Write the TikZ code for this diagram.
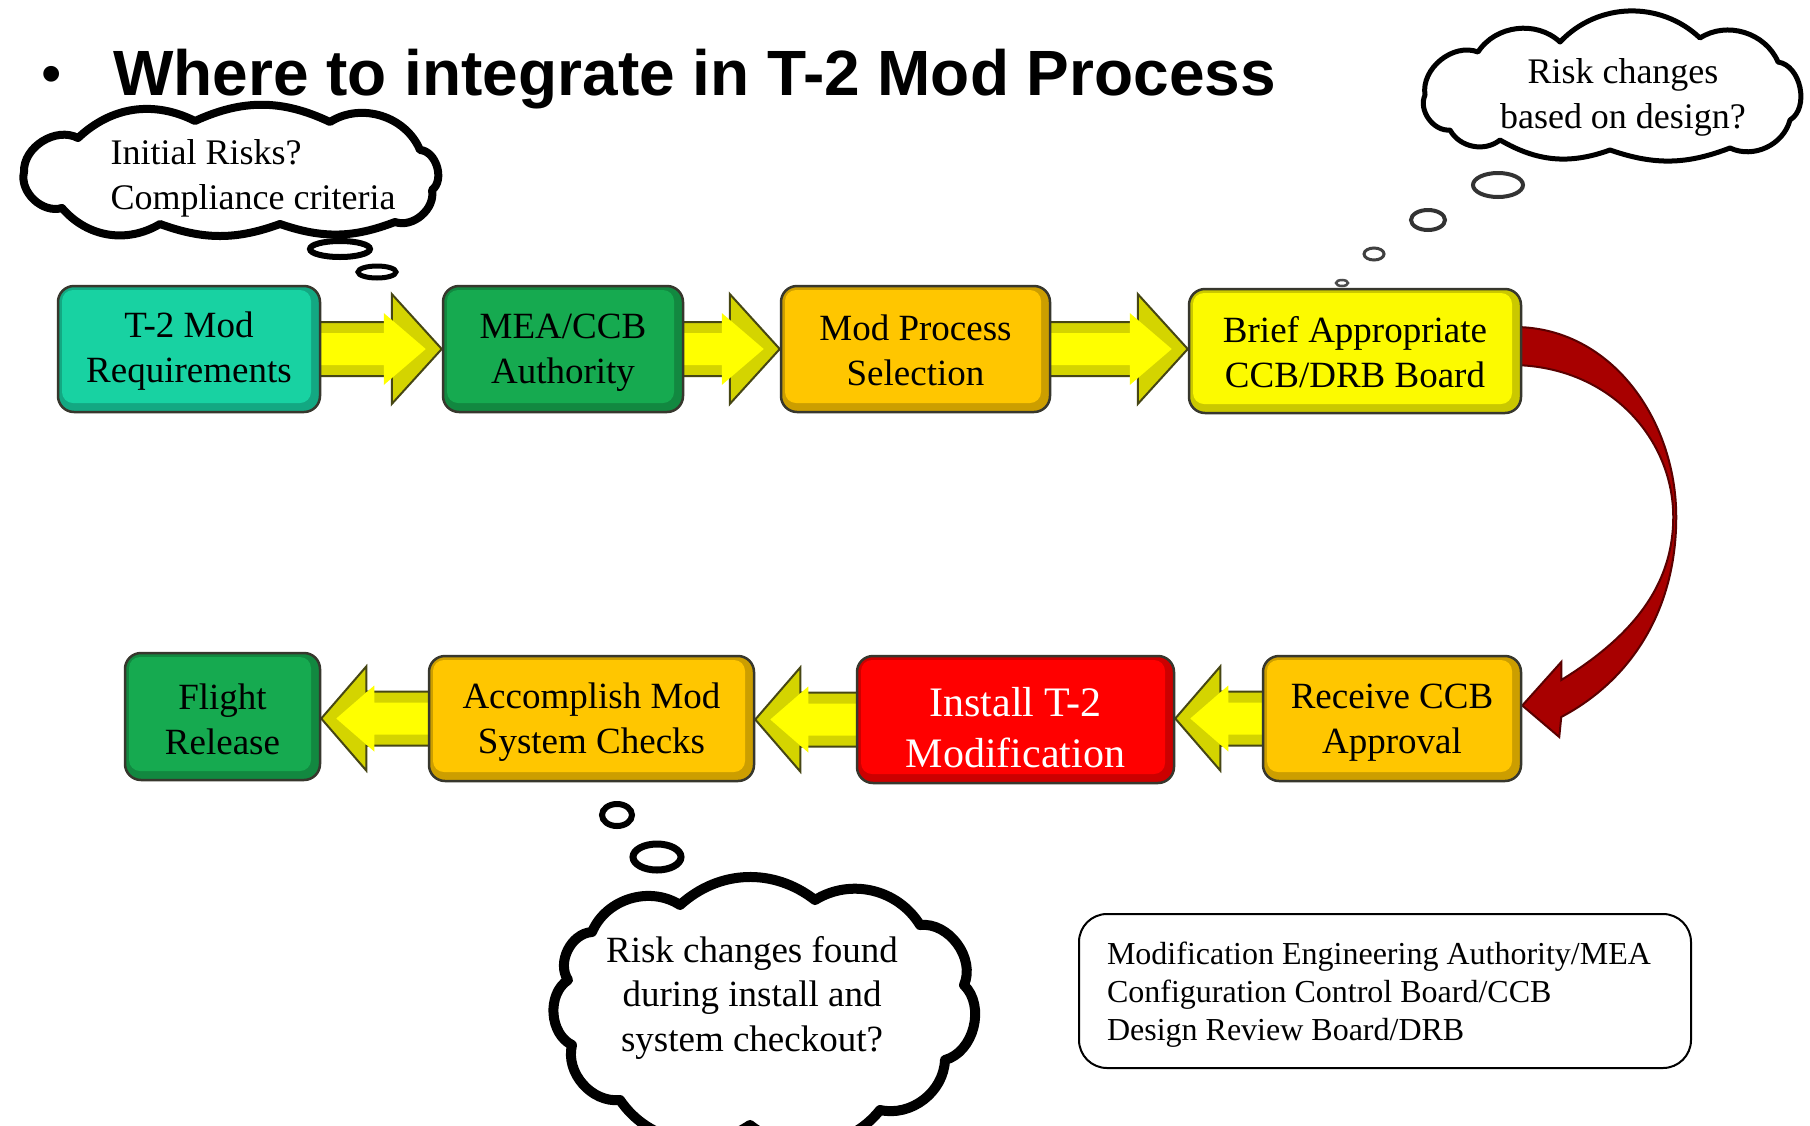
\documentclass[tikz,border=0pt]{standalone}
\usepackage{fontspec}
\setmainfont{Liberation Serif}
\newfontfamily\titlefont{Liberation Sans}
\usetikzlibrary{calc}
\pgfdeclarelayer{bg}
\pgfsetlayers{bg,main}
\definecolor{cteal}{RGB}{24,210,162}
\definecolor{cgreen}{RGB}{22,170,80}
\definecolor{cgold}{RGB}{255,198,0}
\definecolor{cyel}{RGB}{252,250,0}
\definecolor{cred}{RGB}{255,0,0}
\definecolor{arrowyel}{RGB}{255,255,0}
\definecolor{arrowedge}{RGB}{212,212,0}
\definecolor{arrowline}{RGB}{70,70,20}
\definecolor{darkred}{RGB}{168,0,0}
\definecolor{darkredline}{RGB}{90,0,0}
\definecolor{boxline}{RGB}{55,55,45}
\newcommand\tup[1]{\rule{0pt}{#1}}
\tikzset{
  pbox/.style={rounded corners=16pt, draw=boxline, line width=2.5pt, fill=#1!80!black,
    align=center, inner sep=0pt, font=\fontsize{37}{45}\selectfont,
    path picture={\fill[#1, rounded corners=11pt]
      ([shift={(4pt,-4pt)}]path picture bounding box.north west) rectangle
      ([shift={(-9pt,9pt)}]path picture bounding box.south east);}},
  barrow/.style={fill=arrowedge, draw=arrowline, line width=2pt, line join=miter},
  cloudline/.style={draw=black, fill=white, line join=round},
  bubble/.style={draw=black, fill=white},
  cloudtext/.style={inner sep=0pt, font=\fontsize{36}{45}\selectfont},
}
% right-pointing block arrow from #1 to #2
\newcommand\rarrow[2]{%
  \coordinate (s) at (#1.east);
  \coordinate (t) at (#2.west |- #1.east);
  \begin{pgfonlayer}{bg}
  \filldraw[barrow] ($(s)+(-10,-27)$) -- ($(t)+(-50,-27)$) -- ($(t)+(-50,-55)$) -- (t)
     -- ($(t)+(-50,55)$) -- ($(t)+(-50,27)$) -- ($(s)+(-10,27)$) -- cycle;
  \fill[arrowyel] ($(s)+(-10,-16)$) -- ($(t)+(-58,-16)$) -- ($(t)+(-58,-36)$) -- ($(t)+(-16,0)$)
     -- ($(t)+(-58,36)$) -- ($(t)+(-58,16)$) -- ($(s)+(-10,16)$) -- cycle;
  \end{pgfonlayer}
}
% left-pointing block arrow from #1 to #2
\newcommand\larrow[2]{%
  \coordinate (s) at (#1.west);
  \coordinate (t) at (#2.east |- #1.west);
  \begin{pgfonlayer}{bg}
  \filldraw[barrow] ($(s)+(10,-27)$) -- ($(t)+(45,-27)$) -- ($(t)+(45,-52)$) -- (t)
     -- ($(t)+(45,52)$) -- ($(t)+(45,27)$) -- ($(s)+(10,27)$) -- cycle;
  \fill[arrowyel] ($(s)+(10,-16)$) -- ($(t)+(53,-16)$) -- ($(t)+(53,-33)$) -- ($(t)+(15,0)$)
     -- ($(t)+(53,33)$) -- ($(t)+(53,16)$) -- ($(s)+(10,16)$) -- cycle;
  \end{pgfonlayer}
}
\begin{document}
\begin{tikzpicture}[x=1pt,y=-1pt]
\useasboundingbox (0,0) rectangle (1810,1125);
\begin{pgfonlayer}{bg}
\fill[white] (0,0) rectangle (1810,1125);
\end{pgfonlayer}

% title
\node[font=\titlefont\fontsize{58}{58}\selectfont, inner sep=0pt] (bul) at (52,80) {•};
\node[anchor=base west, font=\titlefont\bfseries\fontsize{64}{70}\selectfont, inner sep=0pt] (title) at (113,95) {Where to integrate in T-2 Mod Process};

% process boxes, top row
\node[pbox=cteal, minimum width=262pt, minimum height=126pt] (b1) at (189,349) {\tup{30pt}T-2 Mod\\Requirements};
\node[pbox=cgreen, minimum width=240pt, minimum height=126pt] (b2) at (563,349) {\tup{31pt}MEA/CCB\\Authority};
\node[pbox=cgold, minimum width=269pt, minimum height=126pt] (b3) at (915.5,349) {\tup{28pt}Mod Process\\Selection};
\node[pbox=cyel, minimum width=332pt, minimum height=124pt] (b4) at (1355,351) {\tup{28pt}Brief Appropriate\\CCB/DRB Board};

% process boxes, bottom row
\node[pbox=cgold, minimum width=258pt, minimum height=125pt] (b5) at (1392,718.5) {\tup{32pt}Receive CCB\\Approval};
\node[pbox=cred, minimum width=317pt, minimum height=127pt, text=white, font=\fontsize{42}{51}\selectfont] (b6) at (1015.5,719.5) {\tup{45pt}Install T-2\\Modification};
\node[pbox=cgold, minimum width=325pt, minimum height=125pt] (b7) at (591.5,718.5) {\tup{32pt}Accomplish Mod\\System Checks};
\node[pbox=cgreen, minimum width=195pt, minimum height=127pt] (b8) at (222.5,716.5) {\tup{31pt}Flight\\Release};

% block arrows
\rarrow{b1}{b2}
\rarrow{b2}{b3}
\rarrow{b3}{b4}
\larrow{b5}{b6}
\larrow{b6}{b7}
\larrow{b7}{b8}

% curved red arrow from b4 to b5
\begin{pgfonlayer}{bg}
\filldraw[fill=darkred, draw=darkredline, line width=2pt, line join=miter]
  ($(b4.east)+(-8,-24)$) .. controls ($(b4.east)+(89,-24)$) and ($(b4.east)+(154,69)$) .. ($(b4.east)+(154,166)$)
  .. controls ($(b4.east)+(154,259)$) and ($(b5.east)+(109,-38.5)$) .. ($(b5.east)+(39,-1.5)$)
  -- ($(b5.east)+(37,18.5)$) -- ($(b5.east)+(0,-13)$) -- ($(b5.east)+(39,-56.5)$) -- ($(b5.east)+(39,-38.5)$)
  .. controls ($(b5.east)+(104,-78.5)$) and ($(b4.east)+(151,239)$) .. ($(b4.east)+(151,166)$)
  .. controls ($(b4.east)+(151,89)$) and ($(b4.east)+(89,16)$) .. ($(b4.east)+(-8,14)$) -- cycle;
\end{pgfonlayer}

% thought cloud 1 (top left)
\draw[cloudline, line width=8pt] (24,172) to[bend left=60] (78,138) to[bend left=35] (195,121)
  to[bend left=25] (330,122) to[bend left=50] (420,150) to[bend left=70] (432,190)
  to[bend left=60] (395,222) to[bend left=20] (280,224) to[bend left=20] (160,224)
  to[bend left=40] (62,208) to[bend left=60] (24,172) -- cycle;
\node[cloudtext, align=left] (t1) at (253,178) {Initial Risks?\\Compliance criteria};
\draw[bubble, line width=6pt] (340,249) ellipse [x radius=30pt, y radius=8pt];
\draw[bubble, line width=5pt] (377,272) ellipse [x radius=19pt, y radius=6pt];

% thought cloud 2 (top right)
\draw[cloudline, line width=5pt] (1425,95) to[bend left=60] (1478,52) to[bend left=50] (1560,42)
  to[bend left=45] (1700,38) to[bend left=50] (1778,62) to[bend left=70] (1790,120)
  to[bend left=50] (1730,148) to[bend left=20] (1610,150) to[bend left=25] (1500,140)
  to[bend left=50] (1450,130) to[bend left=60] (1425,95) -- cycle;
\node[cloudtext, align=center] (t2) at (1623,97) {Risk changes\\based on design?};
\draw[bubble, line width=4pt, draw=black!80] (1498,185) ellipse [x radius=25pt, y radius=12pt];
\draw[bubble, line width=4pt, draw=black!80] (1428,220) ellipse [x radius=17pt, y radius=10pt];
\draw[bubble, line width=3pt, draw=black!75] (1374,254) ellipse [x radius=10pt, y radius=6pt];
\draw[bubble, line width=2.5pt, draw=black!70] (1342,283) ellipse [x radius=6pt, y radius=3pt];

% thought cloud 3 (bottom)
\draw[cloudline, line width=10pt] (568,980) to[bend left=60] (592,932) to[bend left=50] (680,905)
  to[bend left=40] (815,900) to[bend left=45] (920,925) to[bend left=60] (964,985)
  to[bend left=60] (945,1060) to[bend left=50] (880,1110) to[bend left=45] (750,1125)
  to[bend left=45] (620,1100) to[bend left=55] (572,1045) to[bend left=60] (568,980) -- cycle;
\node[cloudtext, align=center, font=\fontsize{37}{44.5}\selectfont] (t3) at (752,997.5) {Risk changes found\\during install and\\system checkout?};
\draw[bubble, line width=6pt] (617,815) ellipse [x radius=15pt, y radius=11pt];
\draw[bubble, line width=7pt] (657,857) ellipse [x radius=24pt, y radius=13pt];

% legend
\node[draw=black, line width=2pt, rounded corners=28pt, minimum width=612pt, minimum height=154pt,
      text width=556pt, align=flush left, inner sep=0pt, font=\fontsize{32}{38}\selectfont] (leg) at (1385,991)
  {\tup{29pt}Modification Engineering Authority/MEA\\Configuration Control Board/CCB\\Design Review Board/DRB};
\end{tikzpicture}
\end{document}
